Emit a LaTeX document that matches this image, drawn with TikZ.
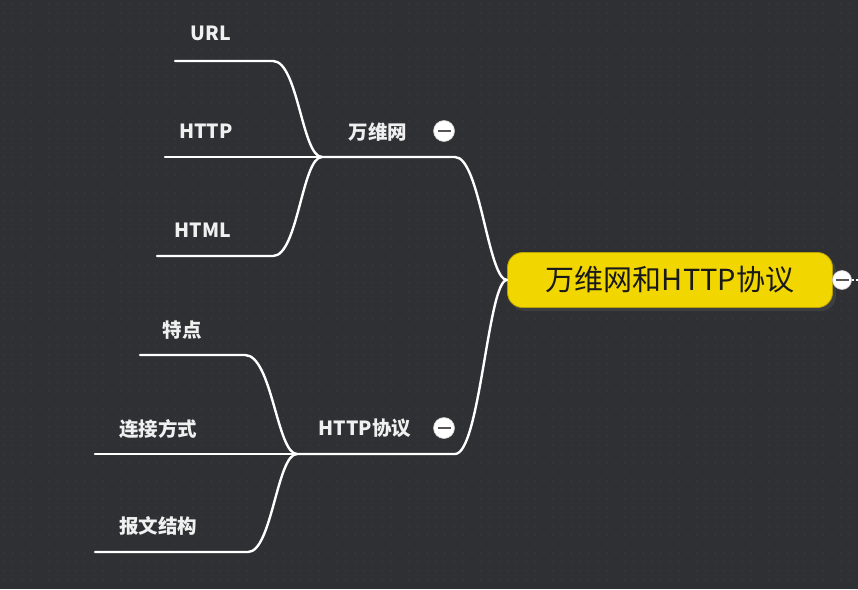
\documentclass[tikz,border=0pt]{standalone}
\usepackage{fontspec}
\setmainfont{Noto Sans CJK SC}
\definecolor{bg}{HTML}{2E3033}
\definecolor{dotc}{HTML}{393C3F}
\definecolor{cyel}{HTML}{F2D600}
\definecolor{cyelb}{HTML}{B8A200}
\definecolor{bar}{HTML}{555555}
\tikzset{
  lbl/.style={text=white!94!black, font=\bfseries\fontsize{19.5}{24}\selectfont, inner sep=0pt},
  branch/.style={draw=white, line width=2.4pt, line cap=round},
  collapse/.style={circle, fill=white, draw=white!80!black, line width=0.6pt, minimum size=21pt, inner sep=0pt,
    path picture={\draw[bar, line width=2.4pt] ([xshift=-6.5pt]path picture bounding box.center) -- ([xshift=6.5pt]path picture bounding box.center);}},
}
\begin{document}
\begin{tikzpicture}[x=1pt,y=-1pt]
\fill[bg] (0,0) rectangle (858,589);
\useasboundingbox (0,0) rectangle (858,589);
\foreach \i in {0,...,94}{\foreach \j in {0,...,64}{\fill[dotc] (4+\i*9,4+\j*9) circle (0.8);}}
% central node
\fill[black!70, opacity=0.5, rounded corners=15pt] (510,256) rectangle (836,311);
\node[draw=cyelb, line width=0.8pt, fill=cyel, rounded corners=15pt, minimum width=325pt, minimum height=55pt, inner sep=0pt,
  font=\fontsize{29}{34}\selectfont, text=black!90] (root) at (670,280) {万维网和HTTP协议};
\node[collapse, minimum size=19pt] (rc) at (842,280) {};
\coordinate (rx) at (858,280);
\draw[white, line width=1.5pt, dash pattern=on 2pt off 2pt] (rc.east) -- (rx);
% level 1
\coordinate (j0) at (507,280);
\coordinate (a1) at (455,157);
\coordinate (a0) at (322,157);
\coordinate (b1) at (455,454);
\coordinate (b0) at (297,454);
\node[lbl] (www) at (378,132) {万维网};
\node[collapse] (cw) at (444,131) {};
\node[lbl] (http) at (365,428) {HTTP协议};
\node[collapse] (ch) at (444,428) {};
\draw[branch] (a0) -- (a1) .. controls (480,157) and (488,280) .. (j0);
\draw[branch] (b0) -- (b1) .. controls (480,454) and (488,280) .. (j0);
% level 2: 万维网
\node[lbl] (url) at (211,33) {URL};
\node[lbl] (http2) at (206,131) {HTTP};
\node[lbl] (html) at (203,230) {HTML};
\coordinate (u0) at (175,61);
\coordinate (u1) at (273,61);
\coordinate (h0) at (165,157);
\coordinate (m0) at (157,256);
\coordinate (m1) at (273,256);
\draw[branch] (u0) -- (u1) .. controls (298,61) and (302,157) .. (a0);
\draw[branch] (h0) -- (a0);
\draw[branch] (m0) -- (m1) .. controls (298,256) and (302,157) .. (a0);
% level 2: HTTP协议
\node[lbl] (td) at (182,330) {特点};
\node[lbl] (lj) at (158,429) {连接方式};
\node[lbl] (bw) at (158,526) {报文结构};
\coordinate (t0) at (140,355);
\coordinate (t1) at (245,355);
\coordinate (l0) at (95,454);
\coordinate (w0) at (95,552);
\coordinate (w1) at (248,552);
\draw[branch] (t0) -- (t1) .. controls (272,355) and (277,454) .. (b0);
\draw[branch] (l0) -- (b0);
\draw[branch] (w0) -- (w1) .. controls (272,552) and (277,454) .. (b0);
\end{tikzpicture}
\end{document}
